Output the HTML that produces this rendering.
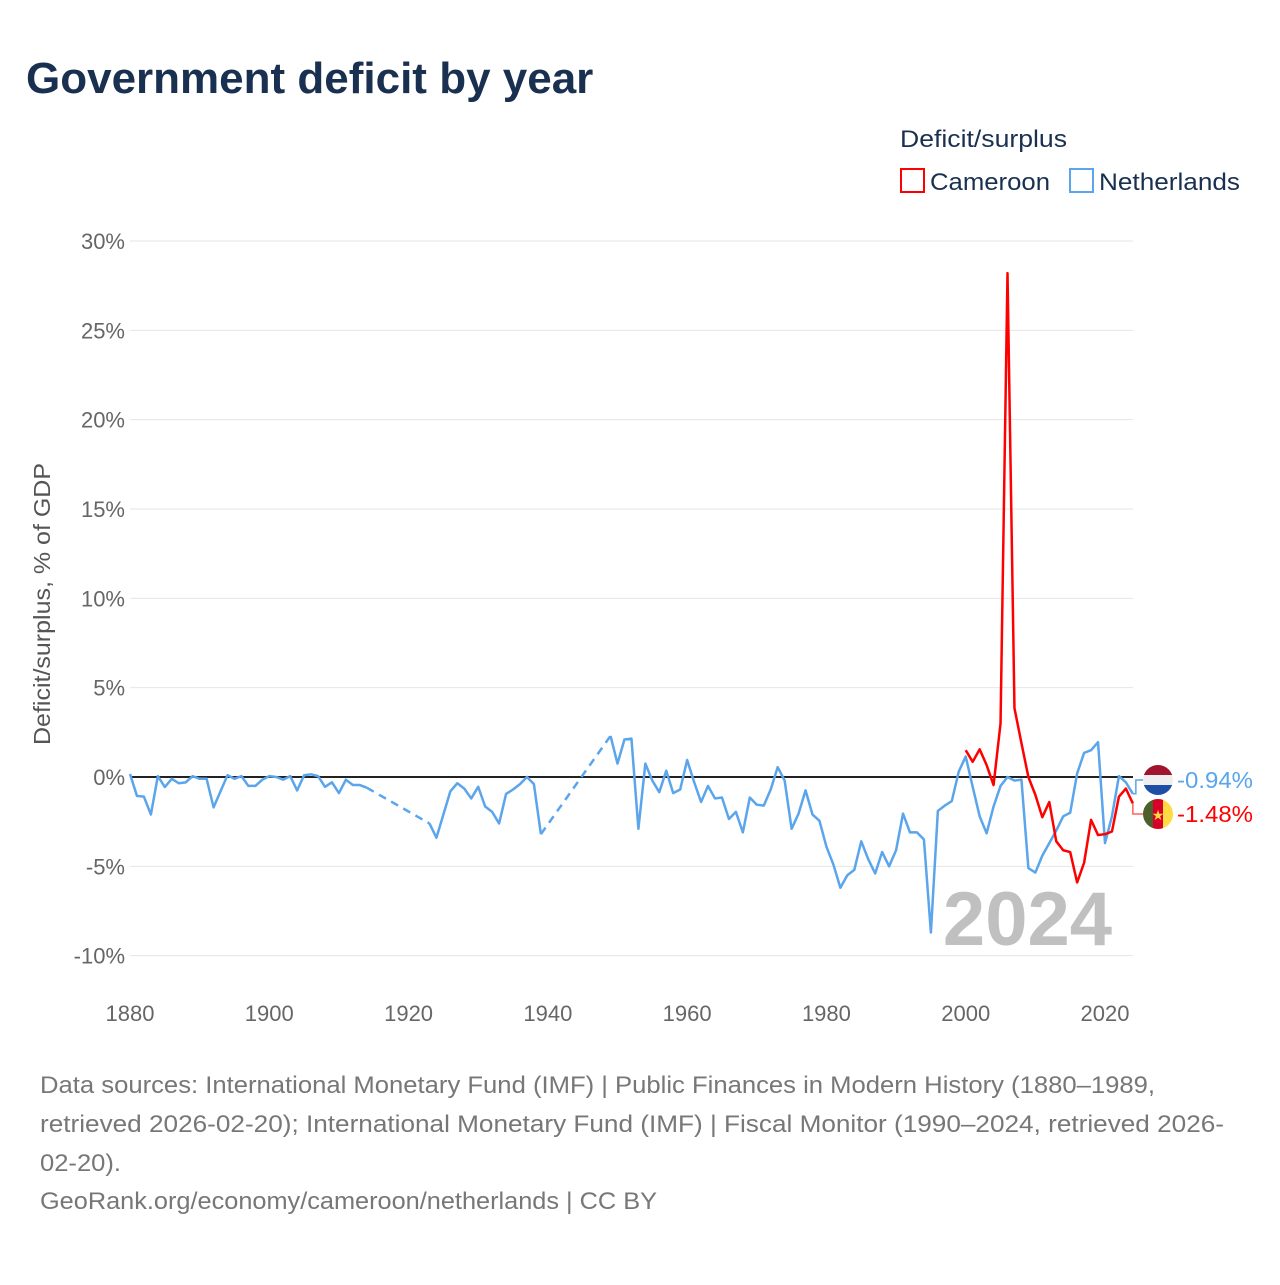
<!DOCTYPE html>
<html><head><meta charset="utf-8"><style>
body{margin:0;background:#fff;width:1280px;height:1280px;overflow:hidden;font-family:"Liberation Sans",sans-serif}
svg text{font-family:"Liberation Sans",sans-serif}
</style></head><body>
<svg id="chart" width="1280" height="1280" viewBox="0 0 1280 1280" xmlns="http://www.w3.org/2000/svg">
<text x="26" y="93" font-size="44" font-weight="bold" fill="#1a3050">Government deficit by year</text>
<g>
<text x="900" y="147" font-size="24" fill="#1a3050" textLength="167" lengthAdjust="spacingAndGlyphs">Deficit/surplus</text>
<rect x="901" y="169" width="23" height="23" fill="#fff" stroke="#ff0000" stroke-width="2"/>
<text x="930" y="190" font-size="24" fill="#1a3050" textLength="120" lengthAdjust="spacingAndGlyphs">Cameroon</text>
<rect x="1070" y="169" width="23" height="23" fill="#fff" stroke="#5aa5ec" stroke-width="2"/>
<text x="1099" y="190" font-size="24" fill="#1a3050" textLength="141" lengthAdjust="spacingAndGlyphs">Netherlands</text>
</g>
<g id="grid"></g>
<g id="axes"></g>
<text x="1112" y="945" text-anchor="end" font-size="76" font-weight="bold" fill="#c0c0c0">2024</text>
<g id="series"></g>
<text transform="translate(50,604) rotate(-90)" text-anchor="middle" font-size="23" fill="#555" textLength="282" lengthAdjust="spacingAndGlyphs">Deficit/surplus, % of GDP</text>
<g font-size="24" fill="#777">
<text x="40" y="1093" textLength="1115" lengthAdjust="spacingAndGlyphs">Data sources: International Monetary Fund (IMF) | Public Finances in Modern History (1880–1989,</text>
<text x="40" y="1132" textLength="1184" lengthAdjust="spacingAndGlyphs">retrieved 2026-02-20); International Monetary Fund (IMF) | Fiscal Monitor (1990–2024, retrieved 2026-</text>
<text x="40" y="1171" textLength="81" lengthAdjust="spacingAndGlyphs">02-20).</text>
<text x="40" y="1209" textLength="617" lengthAdjust="spacingAndGlyphs">GeoRank.org/economy/cameroon/netherlands | CC BY</text>
</g>
</svg>
<script>
const xTicks=[1880,1900,1920,1940,1960,1980,2000,2020];
const yTicks=[-10,-5,0,5,10,15,20,25,30];
const nlStart=1880;
const nlValues=[0.17,-1.06,-1.1,-2.1,0.05,-0.56,-0.1,-0.35,-0.3,0.05,-0.1,-0.1,-1.7,-0.8,0.1,-0.1,0.05,-0.5,-0.5,-0.15,0.05,0.0,-0.15,0.05,-0.75,0.1,0.15,0.05,-0.55,-0.3,-0.9,-0.15,-0.45,-0.45,-0.6,
null,null,null,null,null,null,null,null,
-2.6,-3.4,-2.1,-0.8,-0.35,-0.65,-1.2,-0.55,-1.65,-1.95,-2.6,-0.95,-0.7,-0.4,0.0,-0.4,-3.2,
null,null,null,null,null,null,null,null,null,
2.3,0.75,2.1,2.15,-2.9,0.75,-0.2,-0.85,0.35,-0.9,-0.7,0.95,-0.28,-1.4,-0.5,-1.2,-1.15,-2.35,-1.95,-3.1,-1.15,-1.55,-1.6,-0.7,0.55,-0.2,-2.9,-2.05,-0.75,-2.1,-2.45,-3.9,-4.9,-6.2,-5.5,-5.2,-3.6,-4.6,-5.4,-4.2,-5.0,-4.1,-2.05,-3.1,-3.1,-3.5,-8.7,-1.9,-1.6,-1.35,0.3,1.15,-0.55,-2.2,-3.15,-1.65,-0.5,0.0,-0.2,-0.15,-5.1,-5.35,-4.4,-3.7,-3.0,-2.2,-2.0,0.2,1.35,1.5,1.95,-3.7,-2.2,0.05,-0.3,-0.94];
const cmStart=2000;
const cmValues=[1.5,0.85,1.55,0.67,-0.45,3.0,28.2,3.85,1.9,0.0,-1.0,-2.25,-1.4,-3.6,-4.1,-4.2,-5.9,-4.8,-2.4,-3.25,-3.2,-3.05,-1.1,-0.65,-1.48];
const NS="http://www.w3.org/2000/svg";
const X=y=>130+(y-1880)*(975/140);
const Y=v=>777-v*(536/30);
function mk(t,a,p){const e=document.createElementNS(NS,t);for(const k in a)e.setAttribute(k,a[k]);p.appendChild(e);return e;}
const grid=document.getElementById('grid'),axes=document.getElementById('axes'),ser=document.getElementById('series');
yTicks.forEach(v=>{
 const l=mk('line',{x1:130,x2:1133,y1:Y(v),y2:Y(v),stroke:v===0?'#222':'#e6e6e6','stroke-width':v===0?2:1},grid);
 
 
 const t=mk('text',{x:125,y:Y(v)+8,'text-anchor':'end','font-size':22,fill:'#666'},axes);
 t.textContent=v+'%';
 
 
});
xTicks.forEach(y=>{
 const t=mk('text',{x:X(y),y:1021,'text-anchor':'middle','font-size':22,fill:'#666'},axes);
 t.textContent=y;
 
 
});
function draw(start,vals,color,name){
 let seg=[],segs=[],lastPt=null,dashes=[];
 vals.forEach((v,i)=>{
  if(v===null){if(seg.length){segs.push(seg);seg=[];}return;}
  const p=[X(start+i),Y(v)];
  if(!seg.length&&lastPt&&lastPt.i<i-1)dashes.push([lastPt.p,p]);
  seg.push(p);lastPt={p,i};
 });
 if(seg.length)segs.push(seg);
 segs.forEach(s=>{
  const e=mk('polyline',{points:s.map(p=>p.join(',')).join(' '),fill:'none',stroke:color,'stroke-width':2.5,'stroke-linejoin':'round'},ser);
  
  
 });
 dashes.forEach(d=>{
  const e=mk('line',{x1:d[0][0],y1:d[0][1],x2:d[1][0],y2:d[1][1],stroke:color,'stroke-width':2.5,'stroke-dasharray':'8,6'},ser);
  
  
 });
}
draw(nlStart,nlValues,'#5aa5ec','netherlands');
draw(cmStart,cmValues,'#ff0000','cameroon');
const nlLast=nlValues[nlValues.length-1],cmLast=cmValues[cmValues.length-1];
const x2024=X(2024);
const c1=mk('polyline',{points:`${x2024},${Y(nlLast)} ${x2024+3},${Y(nlLast)} ${x2024+3},780 1143,780`,fill:'none',stroke:'#5aa5ec','stroke-width':1.5},ser);


const c2=mk('polyline',{points:`${x2024},${Y(cmLast)} ${x2024},814 1143,814`,fill:'none',stroke:'#ff6060','stroke-width':1.5},ser);


const defs=mk('defs',{},ser);
const cp1=mk('clipPath',{id:'cnl'},defs);mk('circle',{cx:1158,cy:780,r:15},cp1);
const cp2=mk('clipPath',{id:'ccm'},defs);mk('circle',{cx:1158,cy:814,r:15},cp2);
const fnl=mk('g',{'clip-path':'url(#cnl)'},ser);


mk('rect',{x:1143,y:765,width:30,height:10,fill:'#a2132e'},fnl);
mk('rect',{x:1143,y:775,width:30,height:10,fill:'#eeeeee'},fnl);
mk('rect',{x:1143,y:785,width:30,height:10,fill:'#1f4ea8'},fnl);
const fcm=mk('g',{'clip-path':'url(#ccm)'},ser);


mk('rect',{x:1143,y:799,width:10,height:30,fill:'#4d5f2a'},fcm);
mk('rect',{x:1153,y:799,width:10,height:30,fill:'#d80027'},fcm);
mk('rect',{x:1163,y:799,width:10,height:30,fill:'#ffda44'},fcm);
const st=mk('text',{x:1158,y:820,'text-anchor':'middle','font-size':14,fill:'#ffda44'},fcm);st.textContent='★';
const l1=mk('text',{x:1177,y:788,'font-size':23,fill:'#5aa5ec',textLength:76,lengthAdjust:'spacingAndGlyphs'},ser);
l1.textContent=nlLast.toFixed(2)+'%';


const l2=mk('text',{x:1177,y:822,'font-size':23,fill:'#ff0000',textLength:76,lengthAdjust:'spacingAndGlyphs'},ser);
l2.textContent=cmLast.toFixed(2)+'%';


</script>
</body></html>
